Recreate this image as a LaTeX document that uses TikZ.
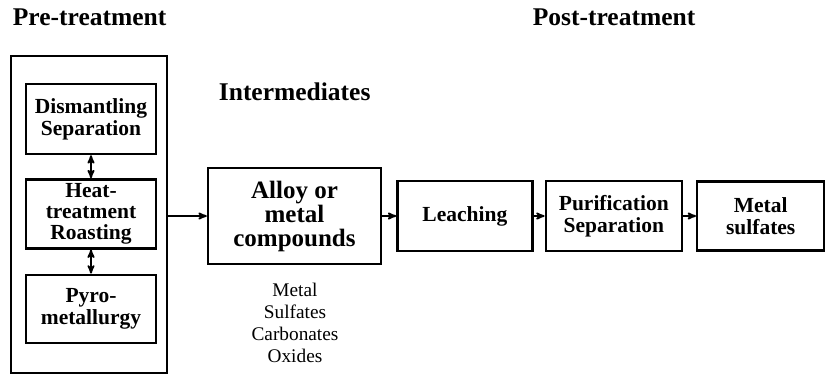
\documentclass[tikz,border=0pt]{standalone}
\usepackage{fontspec}
\setmainfont{Liberation Serif}
\usetikzlibrary{arrows,positioning}

\tikzset{
    procbox/.style={draw, line width=2.4pt, align=center, inner sep=1pt,
        font=\bfseries\fontsize{21.5}{22}\selectfont},
    heading/.style={anchor=base west, inner sep=0pt,
        font=\bfseries\fontsize{25.5}{28}\selectfont},
}

\begin{document}
\begin{tikzpicture}[x=1pt, y=-1pt, >=stealth', line width=1.8pt]
    \useasboundingbox (0,0) rectangle (827,376);

    % titles
    \node[heading] (pretitle)  at (12,25)  {Pre-treatment};
    \node[heading] (posttitle) at (532,25) {Post-treatment};
    \node[heading] (midtitle)  at (218,100) {Intermediates};

    % pre-treatment block
    \node[draw, line width=2.4pt, minimum width=156pt, minimum height=317pt] (pre) at (89,214.5) {};
    \node[procbox, minimum width=130pt, minimum height=70pt] (dism) at (91,119) {Dismantling\\Separation};
    \node[procbox, minimum width=130pt, minimum height=69pt, font=\bfseries\fontsize{21.5}{21}\selectfont]
        (heat) [below=23pt of dism] {Heat-\\treatment\\Roasting};
    \node[procbox, minimum width=130pt, minimum height=68pt] (pyro) [below=24pt of heat] {Pyro-\\metallurgy};

    % intermediates and post-treatment
    \node[procbox, minimum width=173pt, minimum height=96pt, font=\bfseries\fontsize{25}{24}\selectfont]
        (alloy) at (294.5,216) {Alloy or\\metal\\compounds};
    \node[align=center, font=\fontsize{19.3}{22}\selectfont] (forms) at (295,323) {Metal\\Sulfates\\Carbonates\\Oxides};
    \node[procbox, minimum width=135pt, minimum height=70pt] (leach) [right=14pt of alloy] {Leaching};
    \node[procbox, minimum width=136pt, minimum height=70pt] (purif) [right=11pt of leach] {Purification\\Separation};
    \node[procbox, minimum width=127pt, minimum height=69pt] (sulf)  [right=13pt of purif] {Metal\\sulfates};

    \draw[<->] (dism) -- (heat);
    \draw[<->] (heat) -- (pyro);
    \draw[->] (pre.east |- alloy) -- (alloy);
    \draw[->] (alloy) -- (leach);
    \draw[->] (leach) -- (purif);
    \draw[->] (purif) -- (sulf);
\end{tikzpicture}
\end{document}
